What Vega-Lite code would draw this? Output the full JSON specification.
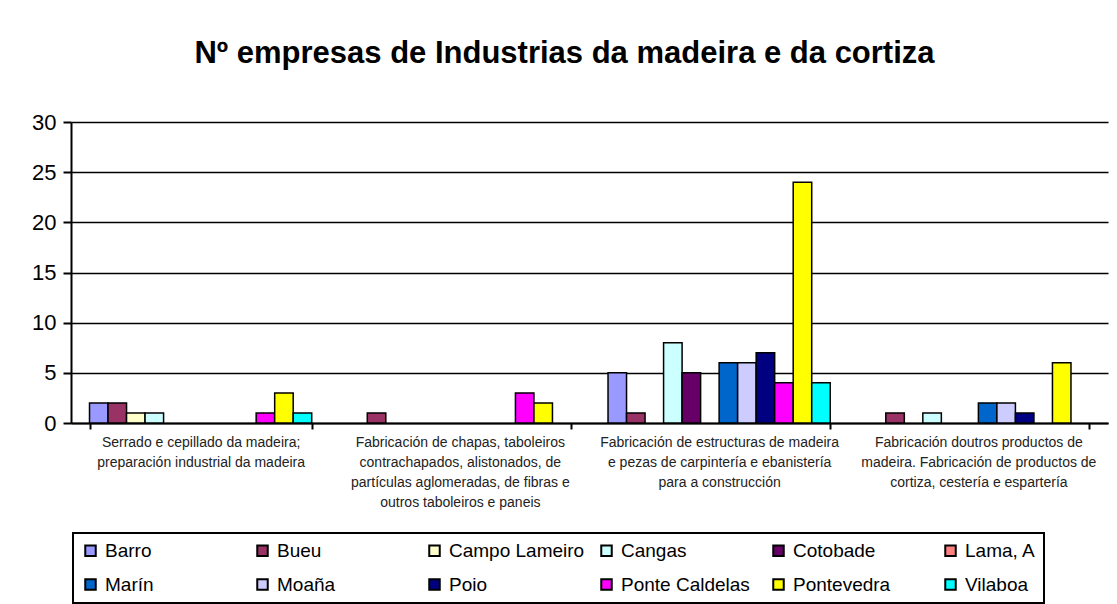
{
  "$schema": "https://vega.github.io/schema/vega-lite/v6.json",
  "autosize": {"type": "none"},
  "width": 1037,
  "height": 301,
  "padding": {"left": 71, "top": 122, "right": 9, "bottom": 181},
  "background": "white",
  "title": {
    "text": "Nº empresas de Industrias da madeira e da cortiza",
    "font": "Liberation Sans",
    "fontSize": 31,
    "fontWeight": "bold",
    "color": "black",
    "anchor": "middle",
    "baseline": "alphabetic",
    "dx": -25,
    "offset": 17
  },
  "data": {
    "values": [
      {"actividade": "Serrado e cepillado da madeira;|preparación industrial da madeira", "concello": "Barro", "empresas": 2},
      {"actividade": "Serrado e cepillado da madeira;|preparación industrial da madeira", "concello": "Bueu", "empresas": 2},
      {"actividade": "Serrado e cepillado da madeira;|preparación industrial da madeira", "concello": "Campo Lameiro", "empresas": 1},
      {"actividade": "Serrado e cepillado da madeira;|preparación industrial da madeira", "concello": "Cangas", "empresas": 1},
      {"actividade": "Serrado e cepillado da madeira;|preparación industrial da madeira", "concello": "Ponte Caldelas", "empresas": 1},
      {"actividade": "Serrado e cepillado da madeira;|preparación industrial da madeira", "concello": "Pontevedra", "empresas": 3},
      {"actividade": "Serrado e cepillado da madeira;|preparación industrial da madeira", "concello": "Vilaboa", "empresas": 1},
      {"actividade": "Fabricación de chapas, taboleiros|contrachapados, alistonados, de|partículas aglomeradas, de fibras e|outros taboleiros e paneis", "concello": "Bueu", "empresas": 1},
      {"actividade": "Fabricación de chapas, taboleiros|contrachapados, alistonados, de|partículas aglomeradas, de fibras e|outros taboleiros e paneis", "concello": "Ponte Caldelas", "empresas": 3},
      {"actividade": "Fabricación de chapas, taboleiros|contrachapados, alistonados, de|partículas aglomeradas, de fibras e|outros taboleiros e paneis", "concello": "Pontevedra", "empresas": 2},
      {"actividade": "Fabricación de estructuras de madeira|e pezas de carpintería e ebanistería|para a construcción", "concello": "Barro", "empresas": 5},
      {"actividade": "Fabricación de estructuras de madeira|e pezas de carpintería e ebanistería|para a construcción", "concello": "Bueu", "empresas": 1},
      {"actividade": "Fabricación de estructuras de madeira|e pezas de carpintería e ebanistería|para a construcción", "concello": "Cangas", "empresas": 8},
      {"actividade": "Fabricación de estructuras de madeira|e pezas de carpintería e ebanistería|para a construcción", "concello": "Cotobade", "empresas": 5},
      {"actividade": "Fabricación de estructuras de madeira|e pezas de carpintería e ebanistería|para a construcción", "concello": "Marín", "empresas": 6},
      {"actividade": "Fabricación de estructuras de madeira|e pezas de carpintería e ebanistería|para a construcción", "concello": "Moaña", "empresas": 6},
      {"actividade": "Fabricación de estructuras de madeira|e pezas de carpintería e ebanistería|para a construcción", "concello": "Poio", "empresas": 7},
      {"actividade": "Fabricación de estructuras de madeira|e pezas de carpintería e ebanistería|para a construcción", "concello": "Ponte Caldelas", "empresas": 4},
      {"actividade": "Fabricación de estructuras de madeira|e pezas de carpintería e ebanistería|para a construcción", "concello": "Pontevedra", "empresas": 24},
      {"actividade": "Fabricación de estructuras de madeira|e pezas de carpintería e ebanistería|para a construcción", "concello": "Vilaboa", "empresas": 4},
      {"actividade": "Fabricación doutros productos de|madeira. Fabricación de productos de|cortiza, cestería e espartería", "concello": "Bueu", "empresas": 1},
      {"actividade": "Fabricación doutros productos de|madeira. Fabricación de productos de|cortiza, cestería e espartería", "concello": "Cangas", "empresas": 1},
      {"actividade": "Fabricación doutros productos de|madeira. Fabricación de productos de|cortiza, cestería e espartería", "concello": "Marín", "empresas": 2},
      {"actividade": "Fabricación doutros productos de|madeira. Fabricación de productos de|cortiza, cestería e espartería", "concello": "Moaña", "empresas": 2},
      {"actividade": "Fabricación doutros productos de|madeira. Fabricación de productos de|cortiza, cestería e espartería", "concello": "Poio", "empresas": 1},
      {"actividade": "Fabricación doutros productos de|madeira. Fabricación de productos de|cortiza, cestería e espartería", "concello": "Pontevedra", "empresas": 6}
    ]
  },
  "mark": {"type": "bar", "stroke": "black", "strokeWidth": 1.5},
  "encoding": {
    "x": {
      "field": "actividade",
      "type": "nominal",
      "sort": null,
      "scale": {"paddingInner": 0.1429, "paddingOuter": 0.0714},
      "axis": {
        "title": null,
        "labelAngle": 0,
        "labelExpr": "split(datum.label, '|')",
        "labelFont": "Liberation Sans",
        "labelFontSize": 14,
        "labelColor": "#222222",
        "labelLineHeight": 20,
        "labelLimit": 300,
        "labelPadding": 6,
        "labelBaseline": "top",
        "tickBand": "extent",
        "tickColor": "black",
        "tickWidth": 2,
        "tickSize": 6,
        "domainColor": "black",
        "domainWidth": 2,
        "grid": false
      }
    },
    "xOffset": {
      "field": "concello",
      "type": "nominal",
      "scale": {
        "domain": ["Barro", "Bueu", "Campo Lameiro", "Cangas", "Cotobade", "Lama, A", "Marín", "Moaña", "Poio", "Ponte Caldelas", "Pontevedra", "Vilaboa"],
        "paddingInner": 0,
        "paddingOuter": 0
      }
    },
    "y": {
      "field": "empresas",
      "type": "quantitative",
      "scale": {"domain": [0, 30], "nice": false},
      "axis": {
        "title": null,
        "values": [0, 5, 10, 15, 20, 25, 30],
        "labelFont": "Liberation Sans",
        "labelFontSize": 22,
        "labelColor": "black",
        "labelPadding": 7,
        "tickColor": "black",
        "tickWidth": 2,
        "tickSize": 8,
        "domainColor": "black",
        "domainWidth": 2,
        "gridColor": "black",
        "gridWidth": 1.5,
        "gridOpacity": 1
      }
    },
    "color": {
      "field": "concello",
      "type": "nominal",
      "scale": {
        "domain": ["Barro", "Bueu", "Campo Lameiro", "Cangas", "Cotobade", "Lama, A", "Marín", "Moaña", "Poio", "Ponte Caldelas", "Pontevedra", "Vilaboa"],
        "range": ["#9999FF", "#993366", "#FFFFCC", "#CCFFFF", "#660066", "#FF8080", "#0066CC", "#CCCCFF", "#000080", "#FF00FF", "#FFFF00", "#00FFFF"]
      },
      "legend": {
        "title": null,
        "orient": "none",
        "legendX": 2,
        "legendY": 411,
        "direction": "horizontal",
        "columns": 6,
        "gridAlign": "all",
        "columnPadding": 12,
        "rowPadding": 14,
        "padding": 8,
        "strokeColor": "black",
        "fillColor": "white",
        "symbolType": "square",
        "symbolSize": 110,
        "symbolStrokeColor": "black",
        "symbolStrokeWidth": 2,
        "symbolOpacity": 1,
        "labelFont": "Liberation Sans",
        "labelFontSize": 19,
        "labelColor": "black",
        "labelOffset": 5,
        "labelLimit": 200
      }
    }
  },
  "config": {
    "view": {"stroke": null},
    "axis": {"labelFlush": false},
    "legend": {"strokeWidth": 2}
  }
}
